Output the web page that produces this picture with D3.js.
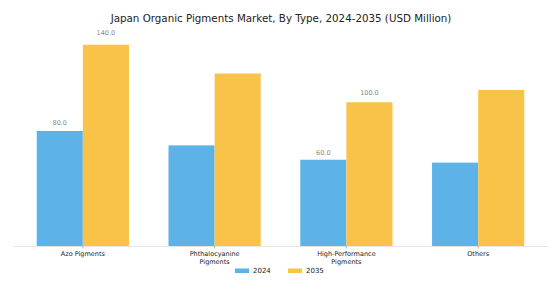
<!DOCTYPE html>
<html>
<head>
<meta charset="utf-8">
<script src="https://cdnjs.cloudflare.com/ajax/libs/d3/7.8.5/d3.min.js"></script>
<style>
  body { margin: 0; background: #fff; }
  text { font-family: "DejaVu Sans", sans-serif; }
</style>
</head>
<body>
<script>
const categories = ["Azo Pigments", "Phthalocyanine\nPigments", "High-Performance\nPigments", "Others"];
const series = ["2024", "2035"];
const values2024 = [80, 70, 60, 58];
const values2035 = [140, 120, 100, 108.5];
// only some bars carry a value label
const labeled = [[true, true], [false, false], [true, true], [false, false]];

const colors = ["#5DB3E8", "#F9C34A"];
const w = 556;
const h = 295;

const svg = d3.select("body").append("svg").attr("width", w).attr("height", h);

// Title
svg.append("text")
  .attr("x", 281)
  .attr("y", 22)
  .attr("text-anchor", "middle")
  .attr("font-size", "10.3px")
  .attr("fill", "#222")
  .text("Japan Organic Pigments Market, By Type, 2024-2035 (USD Million)");

const xScale = d3.scaleBand()
  .domain(categories)
  .range([13, 548])
  .paddingInner(0.3)
  .paddingOuter(0.18);

const xInner = d3.scaleBand()
  .domain(series)
  .range([0, xScale.bandwidth()]);

const yScale = d3.scaleLinear()
  .domain([0, 154])
  .range([246, 24.6]);

const rows = categories.map((c, i) => ({ cat: c, vals: [values2024[i], values2035[i]], lab: labeled[i] }));

const groups = svg.selectAll("g.group")
  .data(rows)
  .enter()
  .append("g")
  .attr("class", "group")
  .attr("transform", (d) => "translate(" + xScale(d.cat) + ",0)");

groups.selectAll("rect")
  .data((d) => d.vals.map((v, j) => ({ key: series[j], v: v, j: j, lab: d.lab[j] })))
  .enter()
  .append("rect")
  .attr("x", (d) => xInner(d.key))
  .attr("y", (d) => yScale(d.v))
  .attr("width", xInner.bandwidth())
  .attr("height", (d) => yScale(0) - yScale(d.v))
  .attr("fill", (d) => colors[d.j]);

groups.selectAll("text.val")
  .data((d) => d.vals.map((v, j) => ({ key: series[j], v: v, lab: d.lab[j] })).filter((d) => d.lab))
  .enter()
  .append("text")
  .attr("class", "val")
  .attr("x", (d) => xInner(d.key) + xInner.bandwidth() / 2)
  .attr("y", (d) => yScale(d.v * 1.05))
  .attr("text-anchor", "middle")
  .attr("font-size", "6.5px")
  .attr("fill", "#888")
  .text((d) => d.v.toFixed(1));

// X axis
const xAxis = d3.axisBottom(xScale).tickSize(2.5).tickSizeOuter(0);
const gx = svg.append("g")
  .attr("transform", "translate(0,246)")
  .call(xAxis);
gx.select(".domain").attr("stroke", "#e6e6e6").attr("stroke-width", 1);
gx.selectAll(".tick line").attr("stroke", "#888").attr("stroke-width", 0.6);
gx.selectAll(".tick text").each(function (d) {
  const t = d3.select(this);
  const lines = d.split("\n");
  t.text(null)
    .attr("font-size", "6.5px")
    .attr("font-family", "DejaVu Sans, sans-serif")
    .attr("fill", "#222")
    .attr("y", 5);
  lines.forEach((line, k) => {
    t.append("tspan").attr("x", 0).attr("dy", k === 0 ? "0.71em" : "1.33em").text(line);
  });
});

// Legend
const legend = svg.append("g").attr("transform", "translate(235,268.5)");
series.forEach((s, i) => {
  const lg = legend.append("g").attr("transform", "translate(" + i * 53 + ",0)");
  lg.append("rect").attr("width", 14).attr("height", 4.5).attr("fill", colors[i]);
  lg.append("text").attr("x", 18).attr("y", 4.8).attr("font-size", "7px").attr("fill", "#222").text(s);
});
</script>
</body>
</html>
